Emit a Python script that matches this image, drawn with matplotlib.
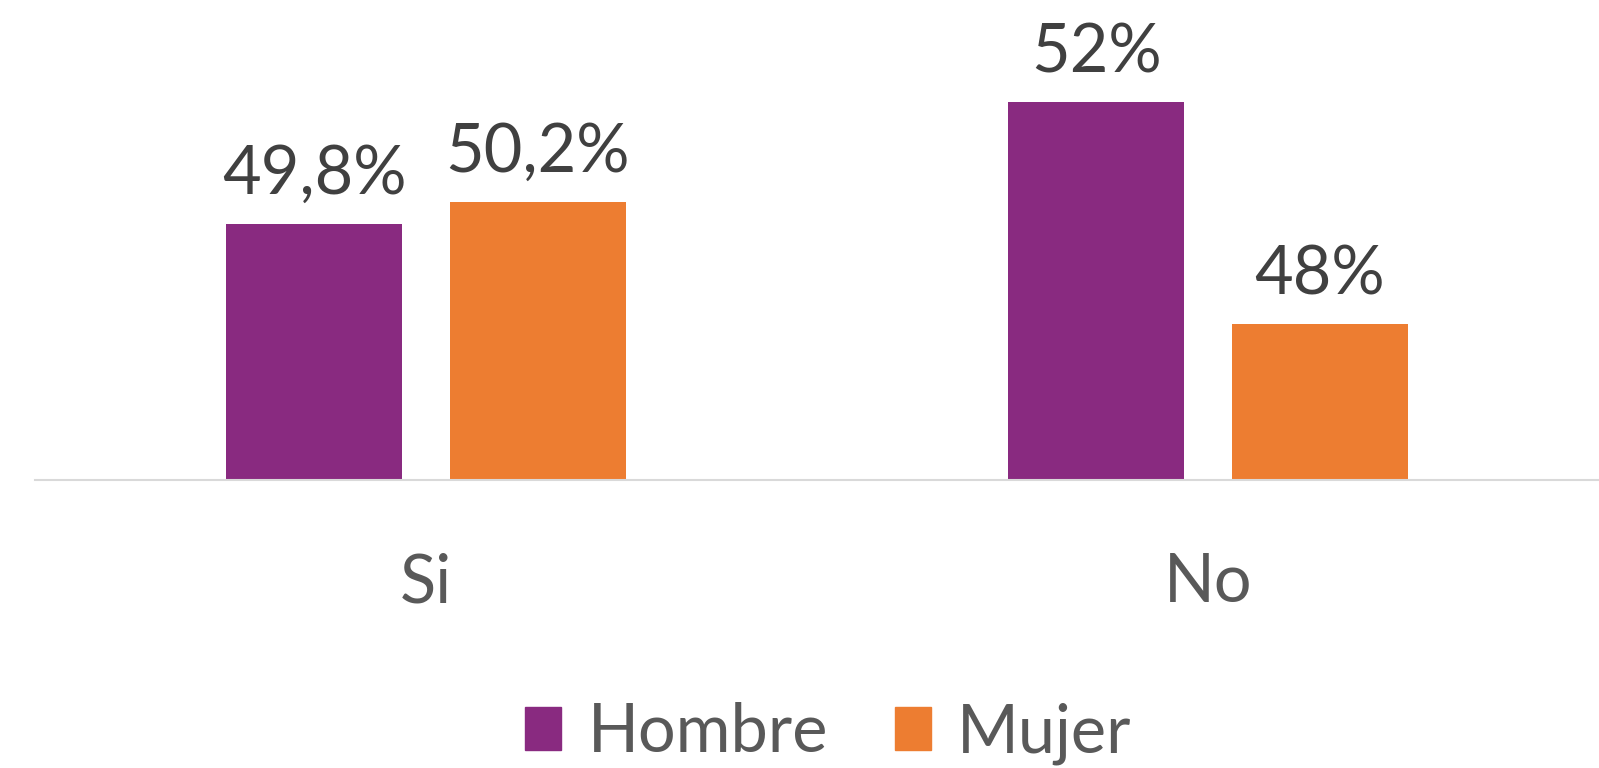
import matplotlib.pyplot as plt
import numpy as np
from matplotlib.patches import Patch

plt.rcParams['font.family'] = ['Lato', 'DejaVu Sans']

categories = ['Si', 'No']
series = ['Hombre', 'Mujer']
hombre = [49.8, 52.0]
mujer = [50.2, 48.0]
colors = ['#892A80', '#ED7D31']


def fmt(v):
    # excel style, decimal comma
    return ('%g' % v).replace('.', ',') + '%'


fig = plt.figure(figsize=(15.99, 7.68), dpi=100)
ax = fig.add_axes([0.022, 0.375, 0.978, 0.625])

x = np.arange(len(categories))
w = 0.225
off = 0.143
b1 = ax.bar(x - off, hombre, w, color=colors[0], bottom=0)
b2 = ax.bar(x + off, mujer, w, color=colors[1], bottom=0)

for bars, vals in [(b1, hombre), (b2, mujer)]:
    ax.bar_label(bars, labels=[fmt(v) for v in vals], padding=13,
                 fontsize=48, color='#404040')

ax.set_xlim(-0.5, 1.5)
ax.set_ylim(45.19, 53.84)
ax.set_xticks(x)
ax.set_xticklabels(categories, fontsize=48, color='#595959')
ax.tick_params(axis='x', length=0, pad=52)
ax.set_yticks([])
for s in ['top', 'right', 'left']:
    ax.spines[s].set_visible(False)
ax.spines['bottom'].set_color('#D9D9D9')
ax.spines['bottom'].set_linewidth(1.5)

handles = [Patch(color=c) for c in colors]
leg = fig.legend(handles, series, loc='center', bbox_to_anchor=(0.518, 0.045),
                 ncol=2, frameon=False, fontsize=48, handlelength=0.54,
                 handleheight=0.61, handletextpad=0.4, columnspacing=1.0,
                 borderaxespad=0)
for t in leg.get_texts():
    t.set_color('#595959')

fig.savefig('out.png', dpi=100)
